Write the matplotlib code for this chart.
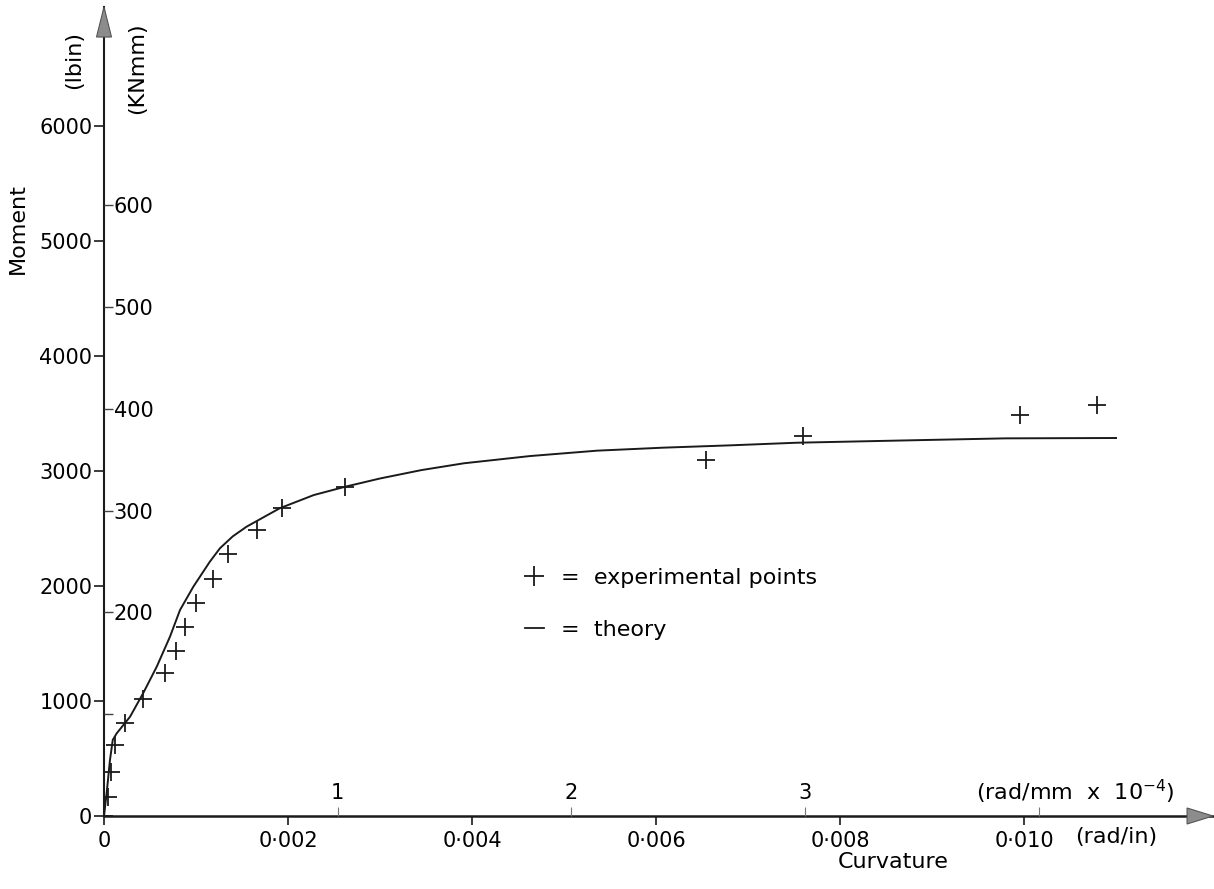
import matplotlib
matplotlib.use('Agg')
import matplotlib.pyplot as plt
from matplotlib.lines import Line2D

# experimentalne punkty: krzywizna (rad/in), moment (lbin)
exp_x = [0.0, 0.000047, 0.000073, 0.00012, 0.000228, 0.000421, 0.000663,
         0.000783, 0.00088, 0.001, 0.00119, 0.00135, 0.00166, 0.00193,
         0.00262, 0.00654, 0.0076, 0.00996, 0.01079]
exp_y = [0, 168, 383, 615, 806, 1015, 1241, 1437, 1646, 1850, 2058, 2276,
         2487, 2676, 2863, 3096, 3304, 3490, 3578]

# teoria
teo_x = [0.0, 0.000029, 0.000065, 0.000095, 0.000138, 0.000283, 0.000427,
         0.000573, 0.000717, 0.000826, 0.000971, 0.00115, 0.00126, 0.00140,
         0.00155, 0.00191, 0.00228, 0.00262, 0.00300, 0.00345, 0.00391,
         0.00463, 0.00536, 0.00608, 0.00680, 0.00753, 0.00865, 0.00980,
         0.0110]
teo_y = [0, 200, 487, 661, 719, 863, 1070, 1298, 1559, 1791, 1994, 2211,
         2328, 2432, 2516, 2676, 2791, 2863, 2935, 3008, 3067, 3130, 3177,
         3203, 3223, 3246, 3265, 3284, 3287]

lbin_ticks = [0, 1000, 2000, 3000, 4000, 5000, 6000]
knmm_ticks = [100, 200, 300, 400, 500, 600]
knmm_labels = ['', '200', '300', '400', '500', '600']
radin_ticks = [0, 0.002, 0.004, 0.006, 0.008, 0.010]
radin_labels = ['0', '0·002', '0·004', '0·006', '0·008', '0·010']
radmm_ticks = [1, 2, 3, 4]
radmm_labels = ['1', '2', '3', '']

LBIN_PER_KNMM = 8.8507
XMAX = 0.012054
YMAX = 7035
fs = 15      # cyfry
fs_t = 16    # napisy
kolor = '#1a1a1a'

plt.rcParams['font.family'] = ['DejaVu Sans']

fig = plt.figure(figsize=(12.14, 8.89), dpi=100)
ax = fig.add_axes([104/1214, 73/889, 1109/1214, 809/889])
ax.set_xlim(0, XMAX)
ax.set_ylim(0, YMAX)

ax.plot(teo_x, teo_y, '-', color=kolor, lw=1.4, zorder=3)
ax.plot(exp_x, exp_y, '+', color=kolor, ms=13, mew=1.3, zorder=4)

for s in ['top', 'right']:
    ax.spines[s].set_visible(False)
ax.spines['left'].set_linewidth(1.5)
ax.spines['bottom'].set_linewidth(1.8)
ax.spines['left'].set_color(kolor)
ax.spines['bottom'].set_color(kolor)

ax.set_yticks(lbin_ticks)
ax.set_yticklabels([str(v) for v in lbin_ticks])
ax.set_xticks(radin_ticks)
ax.set_xticklabels(radin_labels)
ax.tick_params(axis='y', direction='out', length=7, width=1.2, pad=1.5,
               labelsize=fs, color=kolor)
ax.tick_params(axis='x', direction='out', length=6.5, width=1.2, pad=4,
               labelsize=fs, color=kolor)

# druga skala y (KNmm) na tej samej osi
ax2 = ax.twinx()
ax2.set_ylim(0, YMAX/LBIN_PER_KNMM)
for s in ax2.spines:
    ax2.spines[s].set_visible(False)
ax2.spines['right'].set_position(('axes', 0))
ax2.set_yticks(knmm_ticks)
ax2.set_yticklabels(knmm_labels)
ax2.tick_params(axis='y', direction='out', length=6.5, width=1.0, pad=0.5,
                labelsize=fs, color='#444444')

# druga skala x (rad/mm x 1e-4)
ax3 = ax.twiny()
ax3.set_xlim(0, XMAX*1e4/25.4)
for s in ax3.spines:
    ax3.spines[s].set_visible(False)
ax3.spines['top'].set_position(('axes', 0))
ax3.set_xticks(radmm_ticks)
ax3.set_xticklabels(radmm_labels)
ax3.tick_params(axis='x', direction='out', length=6.5, width=0.8, pad=3,
                labelsize=fs, color='#777777')

# groty strzalek
ax.fill([0, -0.00676, 0.00676], [1.0, 0.9629, 0.9629], transform=ax.transAxes,
        clip_on=False, fc='#8c8c8c', ec='#555555', lw=0.8, zorder=5)
ax.fill([1.0, 0.9766, 0.9766], [0, 0.0099, -0.0099], transform=ax.transAxes,
        clip_on=False, fc='#8c8c8c', ec='#555555', lw=0.8, zorder=5)

# podpisy osi
ax.text(-0.0775, 0.7256, 'Moment', transform=ax.transAxes, rotation=90,
        ha='center', va='center', fontsize=fs_t)
ax.text(-0.027, 0.9345, '(lbin)', transform=ax.transAxes, rotation=90,
        ha='center', va='center', fontsize=fs_t)
ax.text(0.0298, 0.9246, '(KNmm)', transform=ax.transAxes, rotation=90,
        ha='center', va='center', fontsize=fs_t)
ax.text(0.7115, -0.0569, 'Curvature', transform=ax.transAxes,
        ha='center', va='center', fontsize=fs_t)
ax.text(0.8756, -0.026, '(rad/in)', transform=ax.transAxes,
        ha='left', va='center', fontsize=fs_t)
ax.text(0.786, 0.0297, r'(rad/mm  x  10$^{-4}$)', transform=ax.transAxes,
        ha='left', va='center', fontsize=fs_t)

uchwyty = [Line2D([], [], marker='+', ls='none', color=kolor, ms=14, mew=1.3),
           Line2D([], [], color=kolor, lw=1.3)]
podpisy = ['=  experimental points', '=  theory']
fig.legend(uchwyty, podpisy, loc='center left',
           bbox_to_anchor=(525/1214, 1-604/889), bbox_transform=fig.transFigure,
           frameon=False, fontsize=fs_t, borderpad=0, borderaxespad=0,
           handlelength=0.85, handletextpad=0.75, labelspacing=1.45)

fig.savefig('out.png', dpi=100)
